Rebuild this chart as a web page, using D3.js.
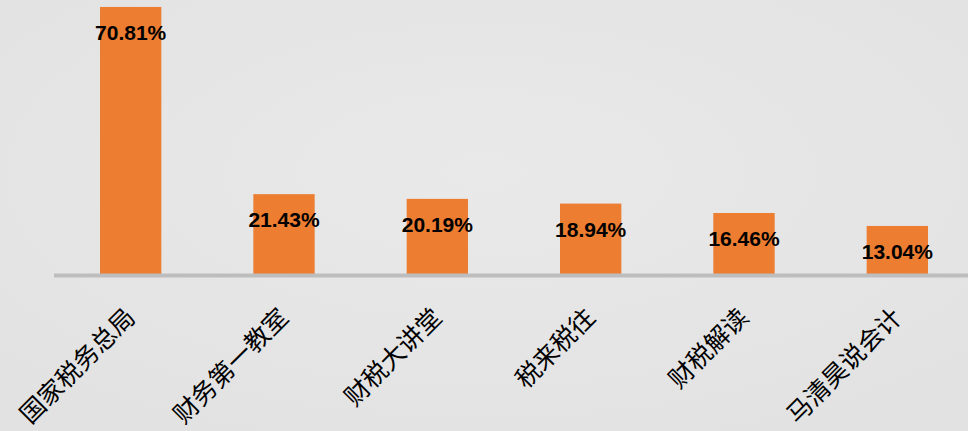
<!DOCTYPE html>
<html>
<head>
<meta charset="utf-8">
<script src="https://cdn.jsdelivr.net/npm/d3@7"></script>
<style>
html,body{margin:0;padding:0;background:#e5e5e5;}
svg{display:block;}
</style>
</head>
<body>
<svg id="chart" width="968" height="431"></svg>
<script>
const categories = ["国家税务总局","财务第一教室","财税大讲堂","税来税往","财税解读","马清昊说会计"];
const values = [70.81, 21.43, 20.19, 18.94, 16.46, 13.04];
const valueLabels = ["70.81%","21.43%","20.19%","18.94%","16.46%","13.04%"];

const W = 968, H = 431;
const svg = d3.select("#chart");

const defs = svg.append("defs");
const rg = defs.append("radialGradient").attr("id","bg").attr("cx","50%").attr("cy","40%").attr("r","80%");
rg.append("stop").attr("offset","0%").attr("stop-color","#e9e9e9");
rg.append("stop").attr("offset","100%").attr("stop-color","#e1e1e1");
svg.append("rect").attr("width",W).attr("height",H).attr("fill","url(#bg)");

const x = d3.scaleBand().domain(categories).range([54, 974]).paddingInner(0.6).paddingOuter(0.3);
const y = d3.scaleLinear().domain([0, 72]).range([275.4, 275.4 - 72*3.791]);

const g = svg.append("g");
g.selectAll("rect.bar").data(categories).join("rect")
  .attr("class","bar")
  .attr("x", d => x(d))
  .attr("width", x.bandwidth())
  .attr("y", (d,i) => y(values[i]))
  .attr("height", (d,i) => y(0) - y(values[i]))
  .attr("fill","#ED7D31");

const xAxis = d3.axisBottom(x).tickSize(0).tickFormat("");
const ax = svg.append("g").attr("transform", `translate(0,${y(0)})`).call(xAxis);
ax.select(".domain").attr("stroke","#bdbdbd").attr("stroke-width",4).attr("d","M54,0H968");

g.selectAll("text.val").data(categories).join("text")
  .attr("class","val")
  .attr("x", d => x(d) + x.bandwidth()/2)
  .attr("y", (d,i) => y(values[i]) + 33)
  .attr("text-anchor","middle")
  .attr("font-family","'Liberation Sans', Arial, sans-serif")
  .attr("font-weight","bold")
  .attr("font-size","21px")
  .attr("fill","#000")
  .text((d,i) => valueLabels[i]);

g.selectAll("text.cat").data(categories).join("text")
  .attr("class","cat")
  .attr("transform", d => `translate(${x(d) + x.bandwidth()/2 + 6},319) rotate(-45)`)
  .attr("text-anchor","end")
  .attr("font-family","'Noto Sans CJK SC', sans-serif")
  .attr("font-size","25px")
  .attr("fill","#000")
  .text(d => d);
</script>
</body>
</html>
